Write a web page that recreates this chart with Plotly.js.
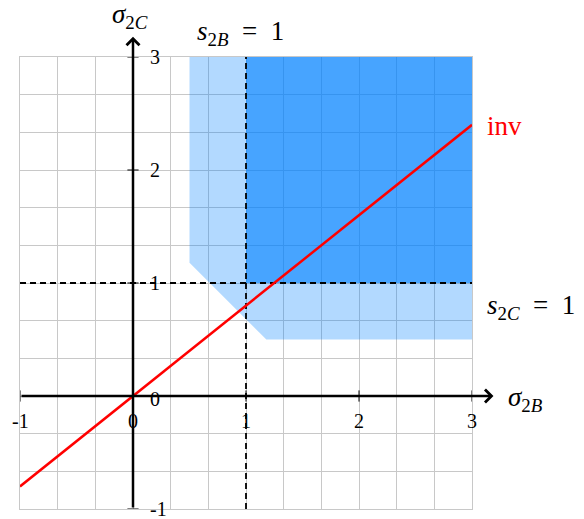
<!DOCTYPE html>
<html>
<head>
<meta charset="utf-8">
<script src="https://cdn.plot.ly/plotly-3.0.1.min.js"></script>
<style>
  html, body { margin: 0; padding: 0; background: #fff; }
  #chart { width: 584px; height: 519px; }
</style>
</head>
<body>
<div id="chart"></div>
<script>
// light region (one of the two constraints holds, corner cut off)
var lightX = [0.5, 0.5, 1.18, 3, 3, 0.5];
var lightY = [3, 1.18, 0.5, 0.5, 3, 3];
// dark region: both s_2B >= 1 and s_2C >= 1
var darkX = [1, 1, 3, 3, 1];
var darkY = [1, 3, 3, 1, 1];
// the "inv" line
var invX = [-1, 3];
var invY = [-0.8, 2.4];
// tick labels
var xTicks = [-1, 0, 1, 2, 3];
var yTicks = [3, 2, 1, 0, -1];

var serif = "Liberation Serif, DejaVu Serif, serif";

var traces = [
  {x: lightX, y: lightY, mode: 'none', fill: 'toself',
   fillcolor: 'rgba(0,128,255,0.30)', hoverinfo: 'skip'},
  {x: darkX, y: darkY, mode: 'none', fill: 'toself',
   fillcolor: 'rgba(0,128,255,0.60)', hoverinfo: 'skip'},
  {x: [1, 1], y: [-1, 3], mode: 'lines',
   line: {color: 'black', width: 1.8, dash: '6px,4px'}},
  {x: [-1, 3], y: [1, 1], mode: 'lines',
   line: {color: 'black', width: 1.8, dash: '6px,4px'}},
  {x: invX, y: invY, mode: 'lines', line: {color: '#ff0000', width: 2.5}},
  // small tick marks on the axes
  {x: xTicks, y: xTicks.map(v => 0), mode: 'markers',
   marker: {symbol: 'line-ns', size: 8, line: {width: 1, color: 'black'}}},
  {x: yTicks.map(v => 0), y: yTicks, mode: 'markers',
   marker: {symbol: 'line-ew', size: 8, line: {width: 1, color: 'black'}}}
];

var annotations = [];
// axes with arrows
annotations.push({x: 3.19, y: 0, ax: -1, ay: 0, xref: 'x', yref: 'y', axref: 'x', ayref: 'y',
  text: '', showarrow: true, arrowhead: 4, arrowsize: 1, arrowwidth: 2.5, arrowcolor: 'black'});
annotations.push({x: 0, y: 3.18, ax: 0, ay: -1, xref: 'x', yref: 'y', axref: 'x', ayref: 'y',
  text: '', showarrow: true, arrowhead: 4, arrowsize: 1, arrowwidth: 2.5, arrowcolor: 'black'});

xTicks.forEach(function (v) {
  annotations.push({x: v, y: 0, xref: 'x', yref: 'y', text: String(v), showarrow: false,
    yshift: -25, font: {family: serif, size: 20, color: 'black'}});
});
yTicks.forEach(function (v) {
  annotations.push({x: 0, y: v, xref: 'x', yref: 'y', text: String(v), showarrow: false,
    xanchor: 'left', xshift: 15, yshift: v === 0 ? -3 : 0,
    font: {family: serif, size: 20, color: 'black'}});
});

var labels = [
  {x: 0, y: 3, text: '<i>σ</i><sub>2<i>C</i></sub>', xshift: -3, yshift: 41, xanchor: 'center', color: 'black'},
  {x: 3, y: 0, text: '<i>σ</i><sub>2<i>B</i></sub>', xshift: 34, yshift: -3, xanchor: 'left', color: 'black'},
  {x: 0.55, y: 3, text: '<i>s</i><sub>2<i>B</i></sub>&nbsp;&nbsp;=&nbsp;&nbsp;1', yshift: 24, xanchor: 'left', color: 'black'},
  {x: 3, y: 0.79, text: '<i>s</i><sub>2<i>C</i></sub>&nbsp;&nbsp;=&nbsp;&nbsp;1', xshift: 13, xanchor: 'left', color: 'black'},
  {x: 3, y: 2.39, text: 'inv', xshift: 13, xanchor: 'left', color: '#ff0000'}
];
labels.forEach(function (l) {
  annotations.push({x: l.x, y: l.y, xref: 'x', yref: 'y', text: l.text, showarrow: false,
    xanchor: l.xanchor, xshift: l.xshift || 0, yshift: l.yshift || 0,
    font: {family: serif, size: 27, color: l.color}});
});

var layout = {
  width: 584, height: 519,
  margin: {l: 20, r: 112, t: 57, b: 10},
  showlegend: false,
  paper_bgcolor: 'white', plot_bgcolor: 'white',
  xaxis: {range: [-1, 3], tick0: -1, dtick: 1 / 3, showticklabels: false, ticks: '',
    showgrid: true, gridcolor: '#c8c8c8', gridwidth: 1, zeroline: false,
    showline: true, linecolor: '#c8c8c8', linewidth: 1, mirror: true, fixedrange: true},
  yaxis: {range: [-1, 3], tick0: -1, dtick: 1 / 3, showticklabels: false, ticks: '',
    showgrid: true, gridcolor: '#c8c8c8', gridwidth: 1, zeroline: false,
    showline: true, linecolor: '#c8c8c8', linewidth: 1, mirror: true, fixedrange: true},
  annotations: annotations
};

Plotly.newPlot('chart', traces, layout, {displayModeBar: false, staticPlot: true});
</script>
</body>
</html>
